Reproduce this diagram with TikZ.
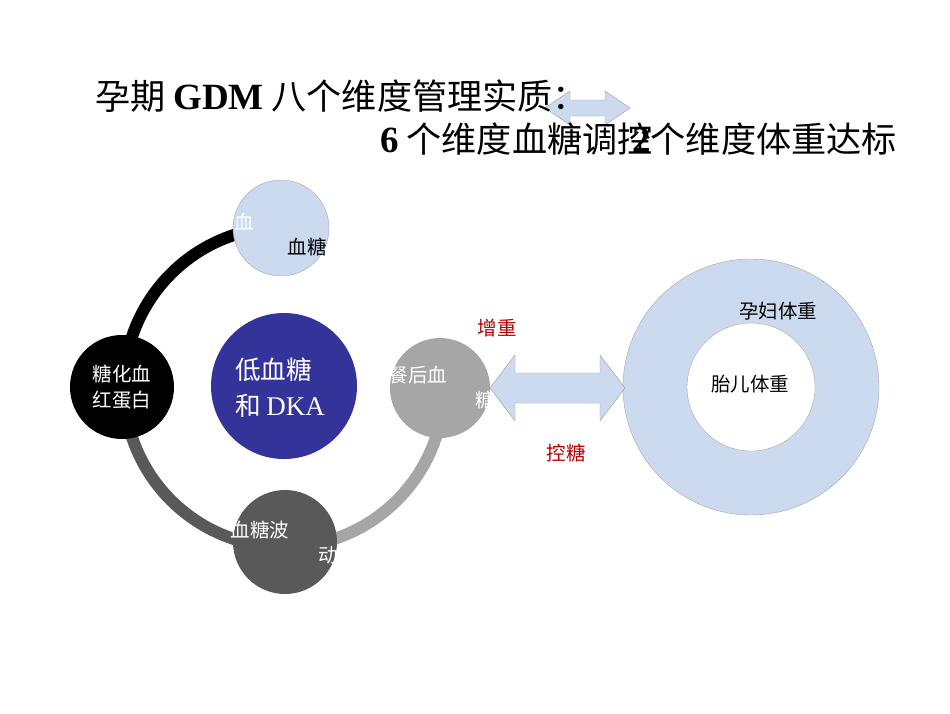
\documentclass[tikz,border=0pt]{standalone}
\usepackage{fontspec}
\setmainfont{Liberation Serif}
\newfontfamily\cjk{Noto Sans CJK SC}[Scale=0.95]
\begin{document}
\begin{tikzpicture}[x=1pt,y=-1pt,
  circ/.style={circle,draw=none,inner sep=0pt,minimum size=#1},
  wt/.style={text=white,font=\cjk\fontsize{20.5}{24}\selectfont,inner sep=0pt},
  bt/.style={text=black,font=\cjk\fontsize{20.5}{24}\selectfont,inner sep=0pt},
  rt/.style={text=red!70!black,font=\cjk\fontsize{20.5}{24}\selectfont,inner sep=0pt}]
\definecolor{lblue}{HTML}{CCDAF0}
\definecolor{navy}{HTML}{333399}
\useasboundingbox (0,0) rectangle (950,713);
% arcs
\draw[line width=12pt,black] (284,387) ++(180:160) arc[start angle=180,end angle=270,radius=160];
\draw[line width=12pt,black!65] (284,387) ++(180:160) arc[start angle=180,end angle=90,radius=160];
\draw[line width=12pt,black!35] (284,387) ++(90:160) arc[start angle=90,end angle=0,radius=160];
% circles
\node[circ=96pt,fill=lblue,draw=gray!70] (top) at (281,228) {};
\node[circ=146pt,fill=navy] (mid) at (284,386) {};
\node[circ=100pt,fill=black!35] (rgt) at (440,388) {};
\node[circ=104pt,fill=black!65] (bot) at (285,542) {};
\node[circ=104pt,fill=black] (lft) at (122,387) {};
% ring
\node[circ=256pt,fill=lblue,draw=gray!70] (ring) at (751,387) {};
\node[circ=128pt,fill=white,draw=gray!70] (hole) at (751,387) {};
% arrows
\draw[fill=lblue,draw=gray!80] (490,388) -- (515,355) -- (515,373) -- (600,373) -- (600,355) -- (625,388) -- (600,421) -- (600,403) -- (515,403) -- (515,421) -- cycle;
\draw[fill=lblue,draw=gray!80] (545,108) -- (570,91) -- (570,100) -- (605,100) -- (605,91) -- (630,108) -- (605,125) -- (605,116) -- (570,116) -- (570,125) -- cycle;
% circle texts
\node[wt,align=center] (tl) at (122,387) {糖化血\\[2pt]红蛋白};
\node[text=white,font=\cjk\fontsize{27}{36}\selectfont,align=left,inner sep=0pt] (tm) at (280,388) {低血糖\\和 {\fontspec{Liberation Serif}DKA}};
\node[wt] (tr1) at (418,375) {餐后血};
\node[wt] (tr2) at (485,400) {糖};
\node[wt] (tb1) at (260,530) {血糖波};
\node[wt] (tb2) at (328,555) {动};
\node[wt] (tt1) at (244,222) {血};
\node[bt] (tt2) at (307,247) {血糖};
\node[bt] (r1) at (778,311) {孕妇体重};
\node[bt] (r2) at (750,384) {胎儿体重};
\node[rt] (z) at (497,328) {增重};
\node[rt] (k) at (566,453) {控糖};
% title
\node[anchor=west,inner sep=0pt,font=\cjk\fontsize{37}{44}\selectfont] (t1) at (95,96) {孕期 {\fontspec{Liberation Serif}\bfseries GDM} 八个维度管理实质：};
\node[anchor=west,inner sep=0pt,font=\cjk\fontsize{37}{44}\selectfont] (t2) at (380,139) {{\fontspec{Liberation Serif}\bfseries 6} 个维度血糖调控};
\node[anchor=west,inner sep=0pt,font=\cjk\fontsize{37}{44}\selectfont] (t3) at (632,139) {{\fontspec{Liberation Serif}\bfseries 2}个维度体重达标};
\end{tikzpicture}
\end{document}
